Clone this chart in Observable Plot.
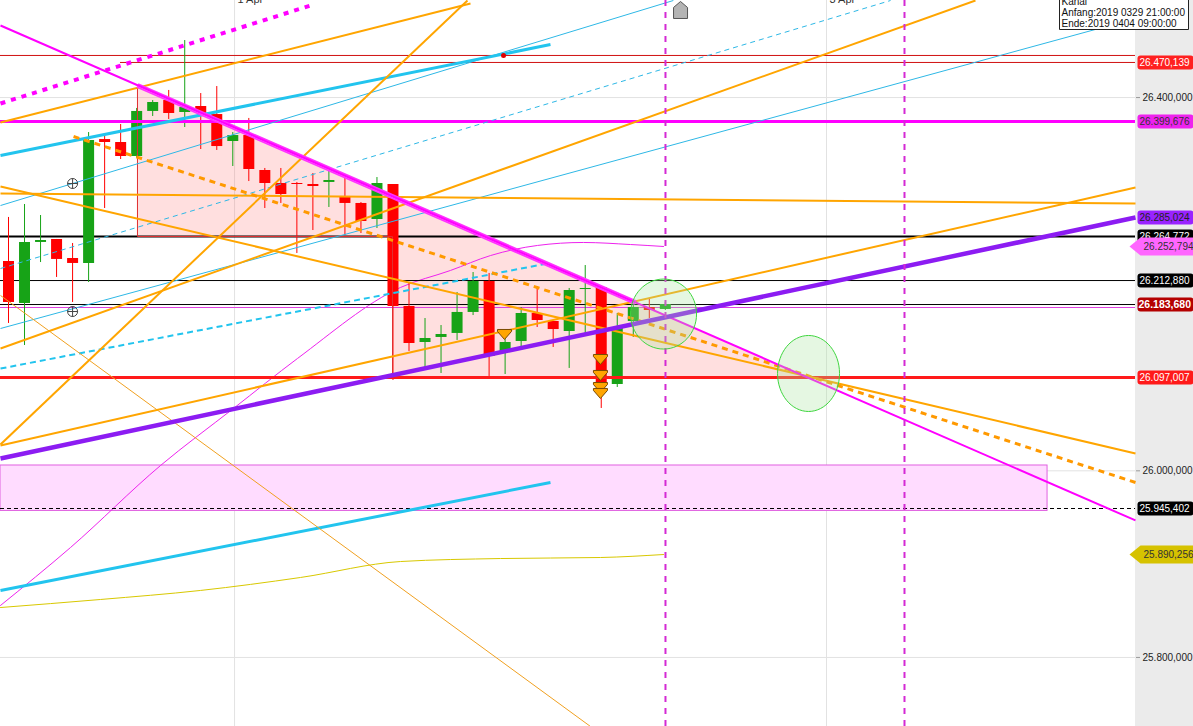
<!DOCTYPE html>
<html><head><meta charset="utf-8">
<script src="https://cdn.jsdelivr.net/npm/d3@7"></script>
<script src="https://cdn.jsdelivr.net/npm/@observablehq/plot@0.6"></script>
<style>
html,body{margin:0;padding:0;background:#fff;overflow:hidden}
#wrap{position:relative;width:1193px;height:726px;overflow:hidden;background:linear-gradient(to right,#fff 0,#fff 1135px,#ebebeb 1135px);}
#wrap svg{position:absolute;left:0;top:0}
</style></head><body>
<div id="wrap"></div>
<script>
// ---- candles (sequential bar index) ----
const opens  = [26224300,26179300,26244700,26247900,26227500,26222200,26355000,26351800,26336800,26385100,26396800,26384000,26390400,26381800,26352900,26359300,26321800,26307900,26307900,26306800,26309000,26294000,26286500,26269300,26306800,26176100,26137500,26142900,26147200,26169700,26202900,26126800,26138600,26168600,26160000,26149300,26194300,26196500,26092500,26160000,26175000,26172900];
const highs  = [26271500,26285400,26273600,26247900,26243600,26362500,26359300,26371100,26388300,26396800,26407600,26461100,26404300,26411800,26362500,26377600,26324000,26324000,26309000,26318600,26321800,26316500,26287500,26314300,26306800,26201800,26163200,26155700,26191100,26212500,26211500,26150400,26175000,26197500,26160000,26195400,26220000,26196500,26168600,26179300,26184700,26180400];
const lows   = [26157900,26134300,26223200,26207200,26180400,26201800,26281100,26333600,26334700,26379700,26376500,26367900,26344300,26343300,26326100,26310000,26281100,26286500,26232900,26257500,26282200,26252200,26254300,26259700,26096800,26127900,26110700,26104300,26139700,26166400,26101100,26103200,26131100,26153600,26132200,26109700,26145000,26066800,26089300,26142900,26163200,26171800];
const closes = [26180400,26244700,26246800,26226500,26222200,26354000,26351800,26336800,26385100,26394700,26382900,26389300,26382900,26347500,26359300,26322900,26307900,26296100,26306800,26304700,26311100,26286500,26267200,26307900,26176100,26136400,26141800,26146100,26169700,26202900,26122500,26137500,26168600,26161100,26151400,26193200,26195400,26093600,26153600,26175000,26171800,26178200];

// ---- moving averages [index, price] ----
const magentaMA = [[-0.5,25855700],[3.87,25917800],[9.49,26005700],[14.04,26066800],[18.04,26120400],[24.47,26196500],[27.59,26214700],[30.09,26230700],[33.02,26241500],[35.89,26244700],[38.83,26242500],[40.89,26240400]];
const yellowMA = [[-0.5,25853500],[5.74,25862100],[11.99,25871800],[18.23,25885700],[24.47,25902800],[30.71,25906000],[36.95,25907100],[40.89,25910300]];

// ---- trend lines [i1, p1, i2, p2] ----
const magentaTrend   = [-0.5,26477200,70.35,25946800];
const magentaDotted  = [-0.5,26393600,18.85,26498600];
const purpleTrend    = [-0.5,26013200,70.35,26271500];
const cyanThickUpper = [-0.5,26338000,33.83,26456800];
const cyanThickLower = [-0.5,25871800,33.83,25987500];
const cyanThinA      = [-0.5,26284300,41.5,26504000];
const cyanThinB      = [-0.5,26152500,70.35,26484700];
const cyanDashThick  = [-0.5,26109600,33.65,26222200];
const cyanDashThin   = [-0.5,26216800,55.06,26504000];
const orangeA = [-0.5,26373300,28.84,26500800];
const orangeB = [-0.5,26028200,28.65,26504000];
const orangeC = [-0.5,26297200,70.35,26286500];
const orangeD = [-0.5,26304700,70.35,26018600];
const orangeE = [-0.5,26027100,70.35,26303600];
const orangeF = [-0.5,26131100,60.36,26504000];
const orangeThin   = [-0.5,26187900,36.33,25726000];
const orangeDashed = [4.06,26358300,70.35,25987500];
const triangleEdge = [8.05,26412900,39.14,26180400];

// ---- horizontal levels ----
const levelRed1 = 26445100, levelRed2 = 26437600, levelRed2Start = 6.99;
const levelMagenta = 26374400, levelBlackThick = 26251100, levelBlack2 = 26203900, levelBlack3 = 26178200;
const levelMagentaThin = 26175000, levelRedThick = 26100000, levelDashed = 25959600;

// ---- triangle area ----
const triX = [8.05,23.97,23.97,49.88];
const triTop = [26412900,26294000,26294000,26100000];
const triBottom = [26251100,26251100,26100000,26100000];
// ---- zone ----
const zone = {i1:-0.5, i2:64.86, p1:25957000, p2:26005700};

// ---- verticals / dates ----
const dateGridX = [14.11, 51.06];
const dateLabels = ["1 Apr", "3 Apr"];
const magentaVerticals = [41.01, 55.93];

// ---- info box ----
const boxLines = ["Kanal", "Anfang:2019 0329 21:00:00", "Ende:2019 0404 09:00:00"];

// ---- markers ----
const ellipseA = [40.89, 26168000];
const ellipseB = [49.94, 26104300];
const houseMarker = [41.95, 26493300];
const redDot = [30.9, 26445100];
const crossMarkers = [[4.0,26307900],[4.0,26170700]];
const arrowMarkers = [[30.96,26146100],[36.95,26119300],[36.95,26102200],[36.95,26089300],[36.95,26082900]];

// ---- axis ticks ----
const yTicks = [25800000, 26000000, 26400000];

// ---- price tags: position, shown value ----
const tagPos   = [levelRed2, levelMagenta, purpleTrend[3], levelBlackThick, levelBlack2, levelRedThick, levelDashed];
const tagValue = [26470139, 26399676, 26285024, 26264772, 26212880, 26097007, 25945402];
const tagBg    = ["#ff2020","#ee22ee","#9922ff","#000","#000","#ff1a1a","#000"];
const tagFg    = ["#fff","#333","#222","#fff","#fff","#fff","#fff"];
const boldTag  = {pos: levelBlack3, value: 26183680};
const arrowTagPos   = [magentaMA[magentaMA.length-1][1], yellowMA[yellowMA.length-1][1]];
const arrowTagValue = [26252794, 25890256];
const arrowTagBg    = ["#ff66ff", "#d6c200"];

// ---- helpers ----
const fmt = v => d3.format(",")(Math.round(v)).replace(",", ".");
const seg = a => [{x1:a[0], y1:a[1], x2:a[2], y2:a[3]}];
const link = (a, o) => Plot.link(seg(a), {x1:"x1", y1:"y1", x2:"x2", y2:"y2", ...o});
const pts = a => a.map(([i,p]) => ({i, p}));
const GREEN = "#17a317", RED = "#ff0000";

const candles = opens.map((o, k) => ({i:k, open:o, high:highs[k], low:lows[k], close:closes[k]}));
const triangle = triX.map((x,k) => ({x, top:triTop[k], bottom:triBottom[k]}));
const tags = tagPos.map((p,k) => ({pos:p, value:tagValue[k], bg:tagBg[k], fg:tagFg[k]}));
const arrowTags = arrowTagPos.map((p,k) => ({pos:p, value:arrowTagValue[k], bg:arrowTagBg[k]}));

function ellipse(rx, ry) {
  return {draw(c) { const k = 0.5523;
    c.moveTo(rx,0);
    c.bezierCurveTo(rx,ry*k,rx*k,ry,0,ry);
    c.bezierCurveTo(-rx*k,ry,-rx,ry*k,-rx,0);
    c.bezierCurveTo(-rx,-ry*k,-rx*k,-ry,0,-ry);
    c.bezierCurveTo(rx*k,-ry,rx,-ry*k,rx,0);
    c.closePath(); }};
}
const tagShape = {draw(c){ const x0=-28,y0=-7,w=56,h=14,r=3;
  c.moveTo(x0+r,y0); c.lineTo(x0+w-r,y0); c.arcTo(x0+w,y0,x0+w,y0+r,r);
  c.lineTo(x0+w,y0+h-r); c.arcTo(x0+w,y0+h,x0+w-r,y0+h,r);
  c.lineTo(x0+r,y0+h); c.arcTo(x0,y0+h,x0,y0+h-r,r);
  c.lineTo(x0,y0+r); c.arcTo(x0,y0,x0+r,y0,r); c.closePath(); }};
const arrowShape = {draw(c){ c.moveTo(-6,0); c.lineTo(5,-9); c.lineTo(62,-9); c.lineTo(62,9); c.lineTo(5,9); c.closePath(); }};
const houseShape = {draw(c){ c.moveTo(0,-9); c.lineTo(7,-3); c.lineTo(7,8); c.lineTo(-7,8); c.lineTo(-7,-3); c.closePath(); }};
const downShape = {draw(c){ c.moveTo(-7,-5); c.lineTo(7,-5); c.lineTo(7,-3); c.lineTo(0,5); c.lineTo(-7,-3); c.closePath(); }};
const boxShape = {draw(c){ c.rect(-76, -12, 129, 41); }};

const chart = Plot.plot({
  width: 1193, height: 726,
  marginLeft: 0, marginRight: 58, marginTop: 0, marginBottom: 0,
  x: {domain: [-0.5, 70.35], axis: null},
  y: {domain: [25726000, 26504000], axis: null},
  style: {background: "transparent", fontFamily: "Liberation Sans, Arial, sans-serif", fontSize: "10px", overflow: "visible"},
  marks: [
    Plot.ruleY(yTicks, {stroke: "#e2e2e2"}),
    Plot.ruleX(dateGridX, {stroke: "#e2e2e2"}),
    Plot.rect([zone], {x1:"i1", x2:"i2", y1:"p1", y2:"p2", fill:"#ffdcff", stroke:"#e060e0", strokeWidth:1}),
    Plot.areaY(triangle, {x:"x", y1:"bottom", y2:"top", fill:"#ff7a7a", fillOpacity:0.24}),
    Plot.line(pts(yellowMA), {x:"i", y:"p", stroke:"#d8c800", strokeWidth:1, curve:"monotone-x"}),
    Plot.line(pts(magentaMA), {x:"i", y:"p", stroke:"#ee22ee", strokeWidth:1, curve:"monotone-x"}),
    Plot.ruleY([levelRed1], {stroke:"#d01010", strokeWidth:1}),
    Plot.ruleY([levelRed2], {x1: levelRed2Start, x2: 70.35, stroke:"#d01010", strokeWidth:1}),
    Plot.ruleY([levelBlackThick], {stroke:"#000", strokeWidth:2}),
    Plot.ruleY([levelBlack2], {stroke:"#000", strokeWidth:1}),
    Plot.ruleY([levelBlack3], {stroke:"#000", strokeWidth:1}),
    Plot.ruleY([levelMagentaThin], {stroke:"#e040e0", strokeWidth:1}),
    Plot.ruleY([levelDashed], {stroke:"#000", strokeWidth:1, strokeDasharray:"4,3"}),
    Plot.ruleX(candles, {x:"i", y1:"low", y2:"high", stroke: d => d.close >= d.open ? GREEN : RED, strokeWidth:1}),
    Plot.ruleX(candles, {x:"i", y1:"open", y2:"close", stroke: d => d.close >= d.open ? GREEN : RED, strokeWidth:11}),
    link([triX[0], triTop[0], triX[0], triBottom[0]], {stroke:"#e03030", strokeWidth:1}),
    link([triX[0], triBottom[0], triX[1], triBottom[1]], {stroke:"#e03030", strokeWidth:1}),
    link([triX[2], triBottom[1], triX[2], triBottom[2]], {stroke:"#e03030", strokeWidth:1}),
    Plot.ruleY([levelRedThick], {stroke:"#ff1a1a", strokeWidth:3}),
    Plot.ruleY([levelMagenta], {stroke:"#ff00ff", strokeWidth:3}),
    link(cyanThinA, {stroke:"#2eb8e6", strokeWidth:1}),
    link(cyanThinB, {stroke:"#2eb8e6", strokeWidth:1}),
    link(cyanDashThin, {stroke:"#2eb8e6", strokeWidth:1, strokeDasharray:"5,4"}),
    link(cyanDashThick, {stroke:"#22c4ee", strokeWidth:2, strokeDasharray:"6,4"}),
    link(cyanThickUpper, {stroke:"#22c4ee", strokeWidth:3}),
    link(cyanThickLower, {stroke:"#22c4ee", strokeWidth:3}),
    link(orangeThin, {stroke:"#f0a020", strokeWidth:1}),
    link(orangeA, {stroke:"#ffa500", strokeWidth:2}),
    link(orangeB, {stroke:"#ffa500", strokeWidth:2}),
    link(orangeC, {stroke:"#ffa500", strokeWidth:2}),
    link(orangeD, {stroke:"#ffa500", strokeWidth:2}),
    link(orangeE, {stroke:"#ffa500", strokeWidth:2}),
    link(orangeF, {stroke:"#ffa500", strokeWidth:2}),
    link(orangeDashed, {stroke:"#ff9900", strokeWidth:3, strokeDasharray:"6,5"}),
    link(magentaDotted, {stroke:"#ff00ff", strokeWidth:4, strokeDasharray:"5,6"}),
    link(triangleEdge, {stroke:"#ff33ff", strokeWidth:5}),
    link(triangleEdge, {stroke:"#ffc4ff", strokeWidth:1.6}),
    link(magentaTrend, {stroke:"#ff00ff", strokeWidth:2}),
    link(purpleTrend, {stroke:"#8c1cf2", strokeWidth:4.5}),
    Plot.ruleX(magentaVerticals, {stroke:"#d42ad4", strokeWidth:2, strokeDasharray:"6,6"}),
    Plot.dot([ellipseA], {x:d=>d[0], y:d=>d[1], symbol: ellipse(33,35), fill:"#a8e6a0", fillOpacity:0.3, stroke:"#3fd63f", strokeWidth:1}),
    Plot.dot([ellipseB], {x:d=>d[0], y:d=>d[1], symbol: ellipse(31,38), fill:"#a8e6a0", fillOpacity:0.3, stroke:"#3fd63f", strokeWidth:1}),
    Plot.dot(arrowMarkers, {x:d=>d[0], y:d=>d[1], symbol: downShape, fill:"#ffa500", stroke:"#7a4a00", strokeWidth:1}),
    Plot.dot([redDot], {x:d=>d[0], y:d=>d[1], r:2.5, fill:"#e00000", stroke:"none"}),
    Plot.dot(crossMarkers, {x:d=>d[0], y:d=>d[1], r:5, fill:"none", stroke:"#444", strokeWidth:1}),
    Plot.dot(crossMarkers, {x:d=>d[0], y:d=>d[1], r:3.5, symbol:"plus", stroke:"#444", strokeWidth:1}),
    Plot.dot([houseMarker], {x:d=>d[0], y:d=>d[1], symbol: houseShape, fill:"#b4b4b4", stroke:"#555", strokeWidth:1}),
    Plot.text(dateGridX, {x:d=>d, text:(d,k)=>dateLabels[k], frameAnchor:"top", textAnchor:"start", lineAnchor:"bottom", dx:3, dy:2, fill:"#333", fontSize:11}),
    Plot.axisY(yTicks, {anchor:"right", tickSize:4, tickPadding:3, tickFormat: fmt, fontSize:10, color:"#222", stroke:"#999"}),
    Plot.dot(tags, {y:"pos", frameAnchor:"right", dx:30, symbol: tagShape, fill:"bg", stroke:"none"}),
    Plot.text(tags, {y:"pos", text:d=>fmt(d.value), frameAnchor:"right", textAnchor:"start", dx:4, fill:"fg", fontSize:10}),
    Plot.dot([boldTag], {y:"pos", frameAnchor:"right", dx:30, symbol: tagShape, fill:"#b40000", stroke:"none"}),
    Plot.text([boldTag], {y:"pos", text:d=>fmt(d.value), frameAnchor:"right", textAnchor:"start", dx:3, fill:"#fff", fontSize:10.5, fontWeight:"bold"}),
    Plot.dot(arrowTags, {y:"pos", frameAnchor:"right", dx:0, symbol: arrowShape, fill:"bg", stroke:"none"}),
    Plot.text(arrowTags, {y:"pos", text:d=>fmt(d.value), frameAnchor:"right", textAnchor:"start", dx:8, fill:"#333", fontSize:10}),
    // info box
    Plot.dot([0], {frameAnchor:"top-right", symbol: boxShape, fill:"#fff", stroke:"#222", strokeWidth:1}),
    Plot.text([boxLines[0]], {frameAnchor:"top-right", text:d=>d, textAnchor:"start", lineAnchor:"bottom", dx:-74, dy:4, fill:"#111", fontSize:10}),
    Plot.text([boxLines[1]], {frameAnchor:"top-right", text:d=>d, textAnchor:"start", lineAnchor:"bottom", dx:-74, dy:15, fill:"#111", fontSize:10}),
    Plot.text([boxLines[2]], {frameAnchor:"top-right", text:d=>d, textAnchor:"start", lineAnchor:"bottom", dx:-74, dy:26, fill:"#111", fontSize:10})
  ]
});
document.getElementById("wrap").prepend(chart);
</script>
</body></html>
